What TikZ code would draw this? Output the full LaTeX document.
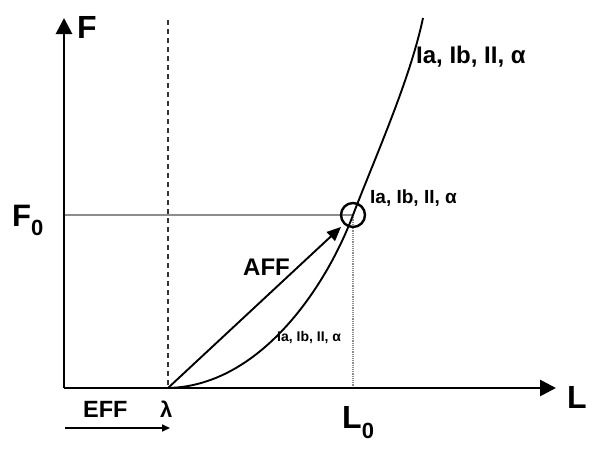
\documentclass[tikz,border=0pt]{standalone}
\usepackage{fontspec}
\setmainfont{Liberation Sans}
\usetikzlibrary{arrows.meta}
\tikzset{
  lbl/.style={inner sep=0pt, anchor=base west, font=\bfseries},
  axisline/.style={line width=2.8pt, -{Triangle[length=16pt,width=16pt]}},
  curveline/.style={line width=1.9pt},
  guideline/.style={line width=1.2pt, draw=black!45},
  dotline/.style={line width=1.2pt, draw=black!45, dash pattern=on 1.2pt off 1pt},
  dashline/.style={line width=2.4pt, draw=black!80, dash pattern=on 5pt off 4pt},
}
\begin{document}
\begin{tikzpicture}[x=1pt,y=-1pt]
\useasboundingbox (0,0) rectangle (600,450);
\fill[white] (0,0) rectangle (600,450);
\coordinate (O) at (64,388);
\coordinate (Ytop) at (64,18);
\coordinate (Xend) at (556,388);
\coordinate (Lam) at (168,388);
\coordinate (LamTop) at (168,20);
\coordinate (F0pt) at (64,215);
\coordinate (P) at (353,215);
\coordinate (L0pt) at (353,388);
\coordinate (Top) at (423,18);
\coordinate (AffEnd) at (341,227);
\coordinate (EffA) at (65,428);
\coordinate (EffB) at (170,428);
% guide lines
\draw[guideline] (F0pt) -- (P);
\draw[dotline] (P) -- (L0pt);
% dashed lambda line
\draw[dashline] (LamTop) -- (Lam);
% axes
\draw[axisline] (O) -- (Ytop);
\draw[axisline] (O) -- (Xend);
% curve
\draw[curveline] (Lam) .. controls (260,386) and (326,287) .. (P)
  .. controls (374,160) and (410,80) .. (Top);
% circle
\node[draw, circle, line width=2.4pt, minimum size=24pt, inner sep=0pt] (circ) at (P) {};
% AFF arrow
\draw[line width=1.9pt, -{Triangle[length=14pt,width=12pt]}] (Lam) -- (AffEnd);
% EFF arrow
\draw[line width=1.6pt, -{Triangle[length=8pt,width=7pt]}] (EffA) -- (EffB);
% labels
\node[lbl, font=\bfseries\fontsize{32}{32}\selectfont] (Flab) at (77,38) {F};
\node[lbl, font=\bfseries\fontsize{32}{32}\selectfont] (Llab) at (567,408) {L};
\node[lbl, font=\bfseries\fontsize{31}{31}\selectfont] (F0lab) at (12,226) {F\raisebox{-9pt}{\fontsize{22}{22}\selectfont 0}};
\node[lbl, font=\bfseries\fontsize{32}{32}\selectfont] (L0lab) at (342,428) {L\raisebox{-10pt}{\fontsize{22}{22}\selectfont 0}};
\node[lbl, font=\bfseries\fontsize{23.5}{23.5}\selectfont] (EFFlab) at (83,417) {EFF};
\node[lbl, font=\bfseries\fontsize{22}{22}\selectfont] (lamlab) at (160,417) {λ};
\node[lbl, font=\bfseries\fontsize{24}{24}\selectfont] (AFFlab) at (243,275) {AFF};
\node[lbl, font=\bfseries\fontsize{24}{24}\selectfont] (toplab) at (416,63) {Ia, Ib, II, α};
\node[lbl, font=\bfseries\fontsize{19}{19}\selectfont] (circlab) at (370,203) {Ia, Ib, II, α};
\node[lbl, font=\bfseries\fontsize{14}{14}\selectfont] (smalllab) at (277,341) {Ia, Ib, II, α};
\end{tikzpicture}
\end{document}
